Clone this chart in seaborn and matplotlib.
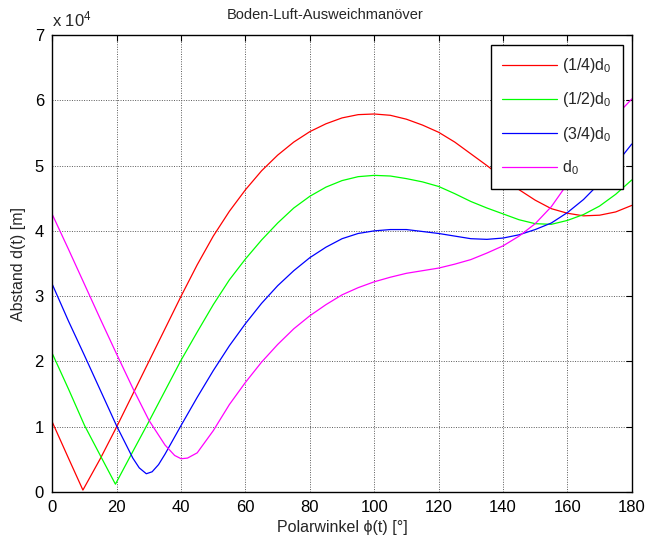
import matplotlib
matplotlib.use("Agg")
import matplotlib.pyplot as plt
import numpy as np
import pandas as pd
import seaborn as sns

# Distance curves d(t) over polar angle phi(t), values in units of 10^4 m
phi_q1 = [0, 5, 9.5, 15, 20, 25, 30, 35, 40, 45, 50, 55, 60, 65, 70, 75, 80, 85, 90,
          95, 100, 105, 110, 115, 120, 125, 130, 135, 140, 145, 150, 155, 160, 165,
          170, 175, 180]
d_q1 = [1.07, 0.52, 0.03, 0.52, 1.00, 1.50, 2.00, 2.50, 3.00, 3.48, 3.92, 4.30, 4.63,
        4.92, 5.16, 5.36, 5.52, 5.64, 5.73, 5.78, 5.79, 5.77, 5.71, 5.62, 5.51, 5.36,
        5.18, 5.00, 4.81, 4.63, 4.47, 4.34, 4.27, 4.23, 4.24, 4.29, 4.39]

phi_q2 = [0, 5, 10, 15, 19.6, 25, 30, 35, 40, 45, 50, 55, 60, 65, 70, 75, 80, 85, 90,
          95, 100, 105, 110, 115, 120, 125, 130, 135, 140, 145, 150, 155, 160, 165,
          170, 175, 180]
d_q2 = [2.12, 1.58, 1.02, 0.55, 0.12, 0.62, 1.08, 1.55, 2.02, 2.45, 2.87, 3.25, 3.57,
        3.86, 4.12, 4.35, 4.53, 4.67, 4.77, 4.83, 4.85, 4.84, 4.80, 4.75, 4.68, 4.57,
        4.45, 4.35, 4.26, 4.17, 4.11, 4.10, 4.16, 4.25, 4.38, 4.56, 4.78]

phi_q3 = [0, 5, 10, 15, 20, 25, 27, 29.2, 31, 33, 35, 40, 45, 50, 55, 60, 65, 70, 75,
          80, 85, 90, 95, 100, 105, 110, 115, 120, 125, 130, 135, 140, 145, 150, 155,
          160, 165, 170, 175, 180]
d_q3 = [3.18, 2.62, 2.09, 1.55, 1.01, 0.52, 0.37, 0.28, 0.31, 0.42, 0.58, 1.02, 1.45,
        1.86, 2.24, 2.58, 2.89, 3.16, 3.39, 3.59, 3.75, 3.88, 3.96, 4.00, 4.02, 4.02,
        3.99, 3.96, 3.92, 3.88, 3.87, 3.89, 3.94, 4.02, 4.12, 4.28, 4.48, 4.73, 5.02,
        5.33]

phi_q4 = [0, 5, 10, 15, 20, 25, 30, 35, 38, 40, 42, 45, 50, 55, 60, 65, 70, 75, 80,
          85, 90, 95, 100, 105, 110, 115, 120, 125, 130, 135, 140, 145, 150, 155, 160,
          165, 170, 175, 180]
d_q4 = [4.25, 3.72, 3.18, 2.64, 2.11, 1.59, 1.10, 0.72, 0.56, 0.51, 0.52, 0.60, 0.94,
        1.34, 1.68, 1.99, 2.26, 2.50, 2.70, 2.87, 3.02, 3.13, 3.22, 3.29, 3.35, 3.39,
        3.43, 3.49, 3.56, 3.66, 3.77, 3.92, 4.11, 4.37, 4.72, 5.07, 5.42, 5.76, 6.02]

labels = ["(1/4)d$_0$", "(1/2)d$_0$", "(3/4)d$_0$", "d$_0$"]
colors = ["#ff0000", "#00ff00", "#0000ff", "#ff00ff"]

frames = []
for lab, xs, ys in zip(labels, [phi_q1, phi_q2, phi_q3, phi_q4],
                       [d_q1, d_q2, d_q3, d_q4]):
    frames.append(pd.DataFrame({"phi": xs, "d": ys, "series": lab}))
df = pd.concat(frames, ignore_index=True)

sns.set_theme(style="white")
plt.rcParams["font.family"] = ["Liberation Sans", "DejaVu Sans"]
plt.rcParams["mathtext.fontset"] = "custom"
plt.rcParams["mathtext.rm"] = "Liberation Sans"
plt.rcParams["mathtext.it"] = "Liberation Sans"

fig = plt.figure(figsize=(6.46, 5.45), dpi=100)
ax = fig.add_axes([0.081, 0.0972, 0.897, 0.8386])

sns.lineplot(data=df, x="phi", y="d", hue="series", palette=colors,
             estimator=None, sort=False, linewidth=0.9, ax=ax)

ax.set_xlim(0, 180)
ax.set_ylim(0, 7)
ax.set_xticks(np.arange(0, 181, 20))
ax.set_yticks(np.arange(0, 8, 1))
ax.grid(True, color="0.35", linestyle=(0, (1, 1.5)), linewidth=0.7)
ax.set_axisbelow(True)

for s in ax.spines.values():
    s.set_color("black")
    s.set_linewidth(1.0)
ax.tick_params(direction="in", length=4, width=0.8, top=True, right=True,
               labelsize=12, colors="black", pad=6)

fig.text(0.503, 0.972, "Boden-Luft-Ausweichmanöver", fontsize=10.5,
         ha="center", va="center")
ax.set_xlabel("Polarwinkel ϕ(t) [°]", fontsize=11.5, labelpad=3)
ax.set_ylabel("Abstand d(t) [m]", fontsize=11.5, labelpad=6)
ax.text(0.0, 1.012, "x 10$^{4}$", transform=ax.transAxes, fontsize=12,
        ha="left", va="bottom")

leg = ax.legend(loc="upper right", bbox_to_anchor=(0.985, 0.978), borderaxespad=0,
                fontsize=11.5, frameon=True, fancybox=False, edgecolor="black",
                framealpha=1, handlelength=3.4, handletextpad=0.35,
                labelspacing=0.95, borderpad=0.7)
leg.get_frame().set_linewidth(1.0)

fig.savefig("out.png", dpi=100, facecolor="white")
